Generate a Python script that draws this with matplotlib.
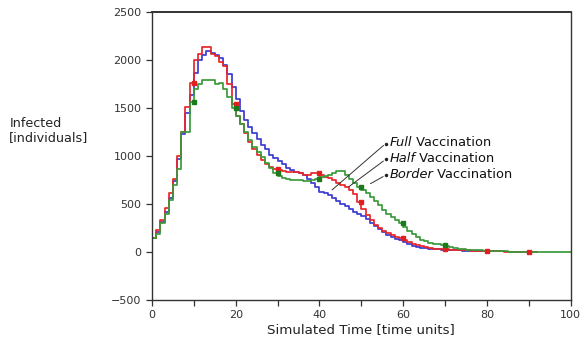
import matplotlib
matplotlib.use("Agg")
import matplotlib.pyplot as plt
import numpy as np

# уровни на отрезке (t-1, t], t = 0, 1, 2, ...
full = [150, 150, 210, 310, 420, 560, 740, 970, 1230, 1450, 1640, 1870, 2000, 2050, 2090, 2070,
        2050, 2020, 1950, 1850, 1720, 1590, 1470, 1380, 1300, 1240, 1180, 1120, 1070, 1010, 980,
        950, 920, 880, 850, 830, 820, 800, 760, 720, 680, 630, 610, 590, 560, 530, 500, 480, 450,
        420, 400, 370, 340, 300, 270, 240, 210, 180, 160, 140, 120, 100, 80, 65, 55, 45, 40, 35,
        30, 27, 25, 22, 20, 18, 16, 15, 14, 13, 12, 10, 10, 9, 8, 8]
half = [150, 150, 230, 330, 460, 610, 760, 1000, 1250, 1510, 1760, 2000, 2060, 2140, 2140, 2060,
        2040, 1980, 1940, 1750, 1545, 1420, 1330, 1240, 1150, 1070, 1010, 960, 920, 890, 870,
        850, 840, 830, 830, 830, 820, 800, 800, 820, 820, 800, 780, 770, 750, 720, 700, 680, 650,
        600, 520, 450, 390, 330, 280, 250, 220, 200, 180, 160, 150, 120, 100, 85, 70, 60, 50, 40,
        35, 32, 30, 28, 25, 22, 20, 18, 16, 15, 15, 14, 15, 12, 10, 8, 6, 5, 4, 3, 2, 2, 0, 0, 0]
border = [150, 150, 190, 300, 400, 540, 700, 870, 1250, 1250, 1560, 1700, 1750, 1790, 1790, 1790,
          1750, 1760, 1700, 1620, 1500, 1420, 1330, 1250, 1170, 1090, 1040, 990, 930, 880, 820,
          790, 770, 760, 750, 750, 750, 740, 740, 750, 760, 780, 790, 800, 820, 840, 840, 800, 760,
          720, 680, 650, 610, 570, 530, 490, 440, 400, 360, 330, 300, 260, 220, 190, 160, 130, 110,
          95, 85, 80, 75, 60, 50, 42, 36, 30, 25, 22, 20, 18, 15, 12, 10, 8, 7, 6, 5, 4, 3, 3, 2,
          2, 1, 1, 1, 0, 0, 0, 0, 0, 0]

labels = ["Full", "Half", "Border"]

series = [(full, "#3b3bd0"), (half, "#e8262a"), (border, "#3a9a3a")]

fig = plt.figure(figsize=(5.8, 3.46), dpi=100)
ax = fig.add_axes([0.262, 0.133, 0.722, 0.832])

for vals, col in series:
    t = np.arange(len(vals))
    ax.step(t, vals, where="pre", color=col, lw=1.25)

# маркеры каждые 10 единиц
t_half = np.arange(len(half))
ax.plot(t_half[10::10], np.array(half)[10::10], "s", color="#e02020", ms=2.8)
t_border = np.arange(len(border))
ax.plot(t_border[10:80:10], np.array(border)[10:80:10], "s", color="#1c7a1c", ms=2.8)

ax.set_xlim(0, 100)
ax.set_ylim(-500, 2500)
ax.set_xticks(np.arange(0, 101, 20))
ax.set_xticks(np.arange(10, 100, 20), minor=True)
ax.set_yticks(np.arange(-500, 2501, 500))
ax.tick_params(axis="both", which="both", direction="out", length=4, width=0.9,
               colors="#333333", labelsize=8, labelcolor="#333333")
for s in ax.spines.values():
    s.set_color("#333333")
    s.set_linewidth(1.0)
ax.spines["top"].set_linewidth(1.4)

ax.set_xlabel("Simulated Time [time units]", fontsize=9.6, color="#222222", labelpad=2)
fig.text(0.016, 1 - 117 / 346, "Infected\n[individuals]", ha="left", va="top",
         fontsize=9.2, color="#222222", linespacing=1.1)

# подписи со стрелками
text_y = [1140, 975, 810]
targets = [(42.5, 628), (46.5, 664), (51.6, 698)]
for lab, ty, (tx, tv) in zip(labels, text_y, targets):
    ax.annotate("", xy=(tx, tv), xytext=(55.8, ty - 10),
                arrowprops=dict(arrowstyle="-", color="#333333", lw=0.7))
    ax.plot(55.8, ty - 10, "o", color="#222222", ms=1.5)
    t1 = ax.text(56.7, ty, lab, fontsize=9.4, style="italic", color="#111111",
                 ha="left", va="center")
    ax.annotate(" Vaccination", xy=(1, 0), xycoords=t1, va="bottom", ha="left",
                fontsize=9.4, color="#111111")

fig.savefig("out.png")
